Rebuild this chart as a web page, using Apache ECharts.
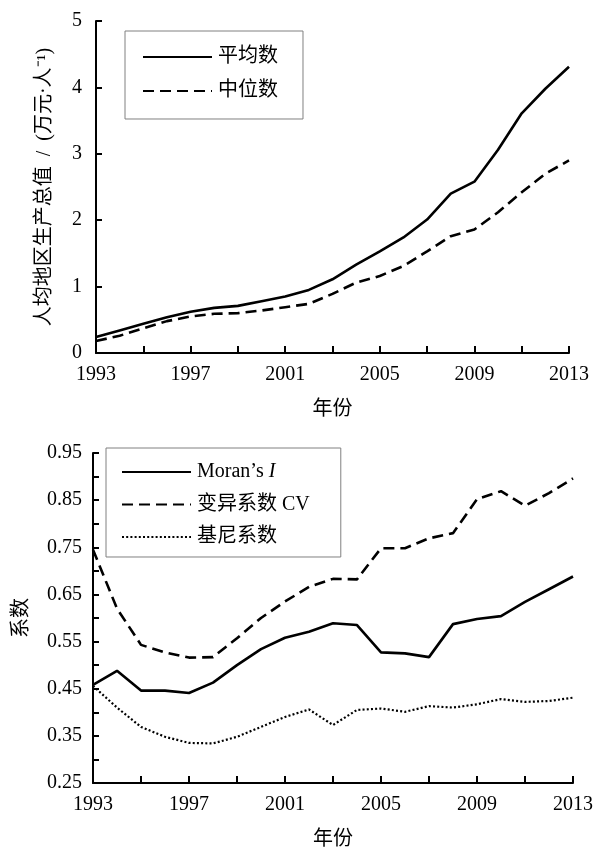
<!DOCTYPE html>
<html><head><meta charset="utf-8">
<script src="https://cdn.jsdelivr.net/npm/echarts@6/dist/echarts.min.js"></script>
<style>html,body{margin:0;padding:0;background:#fff}#c{width:596px;height:851px}</style>
</head><body><div id="c"></div>
<script>
var years = ['1993','1994','1995','1996','1997','1998','1999','2000','2001','2002','2003','2004','2005','2006','2007','2008','2009','2010','2011','2012','2013'];
var meanGDP = [0.24,0.34,0.44,0.54,0.62,0.68,0.71,0.78,0.85,0.95,1.11,1.33,1.53,1.74,2.01,2.40,2.58,3.06,3.61,3.98,4.31];
var medianGDP = [0.18,0.26,0.37,0.48,0.55,0.59,0.60,0.64,0.69,0.74,0.89,1.06,1.16,1.31,1.53,1.76,1.86,2.12,2.42,2.70,2.90];
var moranI = [0.458,0.488,0.446,0.446,0.441,0.463,0.500,0.534,0.558,0.571,0.589,0.585,0.527,0.525,0.517,0.587,0.598,0.604,0.634,0.661,0.688];
var cv = [0.745,0.620,0.543,0.527,0.516,0.517,0.557,0.600,0.635,0.666,0.683,0.682,0.748,0.748,0.769,0.780,0.852,0.869,0.838,0.865,0.896];
var gini = [0.456,0.410,0.369,0.348,0.335,0.334,0.348,0.369,0.390,0.406,0.373,0.405,0.408,0.401,0.413,0.410,0.417,0.428,0.422,0.424,0.431];
var topYTicks = [0,1,2,3,4,5];
var botYTicks = [0.25,0.35,0.45,0.55,0.65,0.75,0.85,0.95];

var serif = '"Liberation Serif","Times New Roman","Noto Sans CJK SC",serif';
var black = '#000';
function xAxis(gi){
  return {type:'category', gridIndex:gi, data:years, boundaryGap:false,
    name:'年份', nameLocation:'middle', nameGap:47,
    nameTextStyle:{fontFamily:serif, fontSize:20, color:black},
    axisLine:{lineStyle:{color:black, width:2}},
    axisTick:{inside:true, length:7, interval:1, lineStyle:{color:black, width:2}},
    axisLabel:{interval:3, margin:12, fontFamily:serif, fontSize:20, color:black},
    splitLine:{show:false}};
}
var chart = echarts.init(document.getElementById('c'));
chart.setOption({
  animation:false,
  backgroundColor:'#fff',
  grid:[{left:96, right:27, top:21, height:332},{left:93, right:23, top:453, height:330}],
  legend:[{
    data:['平均数','中位数'], left:125, top:31, orient:'vertical',
    padding:[16,25,18,17], itemGap:14, itemWidth:69, itemHeight:20,
    borderColor:'#808080', borderWidth:1,
    itemStyle:{opacity:0},
    textStyle:{fontFamily:serif, fontSize:20, color:black, padding:[0,0,0,1]},
    lineStyle:{inherit:true}
  },{
    data:['Moran’s I','变异系数 CV','基尼系数'], left:106, top:448, orient:'vertical',
    padding:[14,31,10,15], itemGap:12.5, itemWidth:69, itemHeight:20,
    borderColor:'#808080', borderWidth:1,
    itemStyle:{opacity:0},
    formatter:function(n){ return n==='Moran’s I' ? 'Moran’s {i|I}' : n; },
    textStyle:{fontFamily:serif, fontSize:20, color:black, padding:[0,0,0,1],
      rich:{i:{fontStyle:'italic', fontFamily:serif, fontSize:20}}}
  }],
  xAxis:[xAxis(0), xAxis(1)],
  yAxis:[{
    type:'value', gridIndex:0, min:0, max:5, interval:1,
    name:'人均地区生产总值\u2002/\u2002(万元·人⁻¹)', nameLocation:'middle', nameGap:41,
    nameTextStyle:{fontFamily:serif, fontSize:20, color:black},
    axisLine:{show:true, lineStyle:{color:black, width:2}},
    axisTick:{show:true, inside:true, length:6, lineStyle:{color:black, width:2}},
    axisLabel:{margin:14, fontFamily:serif, fontSize:20, color:black,
      formatter:function(v){ return topYTicks.indexOf(v)>=0 ? String(v) : ''; }},
    splitLine:{show:false}
  },{
    type:'value', gridIndex:1, min:0.25, max:0.95, interval:0.05,
    name:'系数', nameLocation:'middle', nameGap:61,
    nameTextStyle:{fontFamily:serif, fontSize:20, color:black},
    axisLine:{show:true, lineStyle:{color:black, width:2}},
    axisTick:{show:true, inside:true, length:6, lineStyle:{color:black, width:2}},
    axisLabel:{margin:11, fontFamily:serif, fontSize:20, color:black,
      formatter:function(v){ var r=Math.round(v*100)/100; return botYTicks.indexOf(r)>=0 ? r.toFixed(2) : ''; }},
    splitLine:{show:false}
  }],
  series:[
    {name:'平均数', type:'line', xAxisIndex:0, yAxisIndex:0, data:meanGDP, symbol:'none',
      lineStyle:{color:black, width:2.6, type:'solid'}, itemStyle:{color:black}},
    {name:'中位数', type:'line', xAxisIndex:0, yAxisIndex:0, data:medianGDP, symbol:'none',
      lineStyle:{color:black, width:2.6, type:[11,6]}, itemStyle:{color:black}},
    {name:'Moran’s I', type:'line', xAxisIndex:1, yAxisIndex:1, data:moranI, symbol:'none',
      lineStyle:{color:black, width:2.6, type:'solid'}, itemStyle:{color:black}},
    {name:'变异系数 CV', type:'line', xAxisIndex:1, yAxisIndex:1, data:cv, symbol:'none',
      lineStyle:{color:black, width:2.6, type:[11,6]}, itemStyle:{color:black}},
    {name:'基尼系数', type:'line', xAxisIndex:1, yAxisIndex:1, data:gini, symbol:'none',
      lineStyle:{color:black, width:2.2, type:[2,2.2]}, itemStyle:{color:black}}
  ]
});
</script></body></html>
